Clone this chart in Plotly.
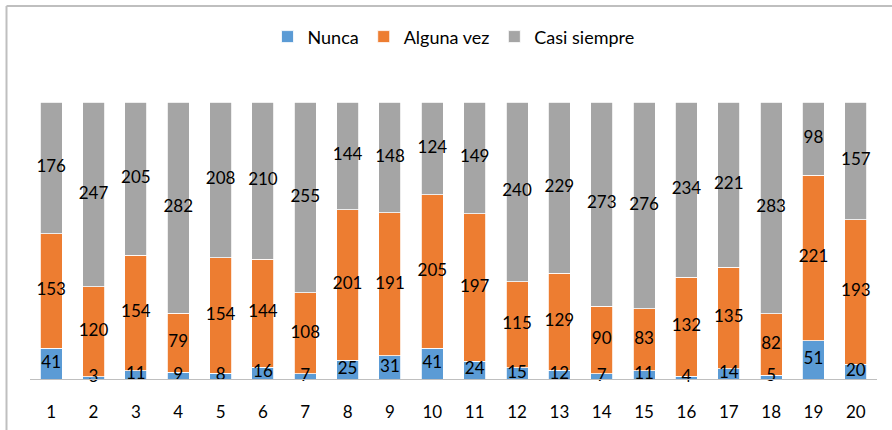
import plotly.graph_objects as go

categories = [str(i) for i in range(1, 21)]
nunca = [41, 3, 11, 9, 8, 16, 7, 25, 31, 41, 24, 15, 12, 7, 11, 4, 14, 5, 51, 20]
alguna_vez = [153, 120, 154, 79, 154, 144, 108, 201, 191, 205, 197, 115, 129, 90, 83, 132, 135, 82, 221, 193]
casi_siempre = [176, 247, 205, 282, 208, 210, 255, 144, 148, 124, 149, 240, 229, 273, 276, 234, 221, 283, 98, 157]

series = [
    ("Nunca", nunca, "#5B9BD5"),
    ("Alguna vez", alguna_vez, "#ED7D31"),
    ("Casi siempre", casi_siempre, "#A5A5A5"),
]

FONT = "Lato, Open Sans, sans-serif"

fig = go.Figure()
base = [0] * len(categories)
for name, vals, col in series:
    fig.add_trace(go.Bar(
        x=categories, y=vals, name=name,
        marker=dict(color=col, line=dict(color="white", width=0.8)),
    ))
    mids = [b + v / 2 for b, v in zip(base, vals)]
    fig.add_trace(go.Scatter(
        x=categories, y=mids, mode="text", text=[str(v) for v in vals],
        textposition="middle center", showlegend=False, hoverinfo="skip",
        textfont=dict(family=FONT, size=17, color="black"), cliponaxis=False,
    ))
    base = [b + v for b, v in zip(base, vals)]

W, H = 892, 430
L, R, T, B = 30, 15, 102, 51
pw, ph = W - L - R, H - T - B


def px_x(x):
    return (x - L) / pw


def px_y(y):
    return (H - B - y) / ph


border = "#BFBFBF"
fig.update_layout(
    barmode="stack",
    bargap=0.48,
    width=W, height=H,
    margin=dict(l=L, r=R, t=T, b=B, autoexpand=False),
    paper_bgcolor="white", plot_bgcolor="white",
    font=dict(family=FONT, size=16, color="black"),
    legend=dict(orientation="h", x=0.5, xanchor="center", y=1.235, yanchor="middle",
                font=dict(family=FONT, size=18, color="black"), itemwidth=30,
                traceorder="normal"),
    xaxis=dict(showline=True, linecolor=border, linewidth=1,
               range=[-0.5, 19.5], autorange=False,
               ticks="outside", ticklen=18, tickcolor="rgba(0,0,0,0)",
               tickfont=dict(family=FONT, size=17, color="black"), showgrid=False),
    yaxis=dict(range=[0, 370], visible=False, showgrid=False),
    shapes=[
        dict(type="line", xref="paper", yref="paper",
             x0=px_x(6.5), x1=px_x(W + 5), y0=px_y(6), y1=px_y(6),
             line=dict(color=border, width=2), layer="above"),
        dict(type="line", xref="paper", yref="paper",
             x0=px_x(6.5), x1=px_x(6.5), y0=px_y(6), y1=px_y(H + 5),
             line=dict(color=border, width=2), layer="above"),
    ],
)

fig.write_html("out.html", config={"displayModeBar": False},
               post_script="document.body.style.margin='0px';document.body.style.overflow='hidden';")
